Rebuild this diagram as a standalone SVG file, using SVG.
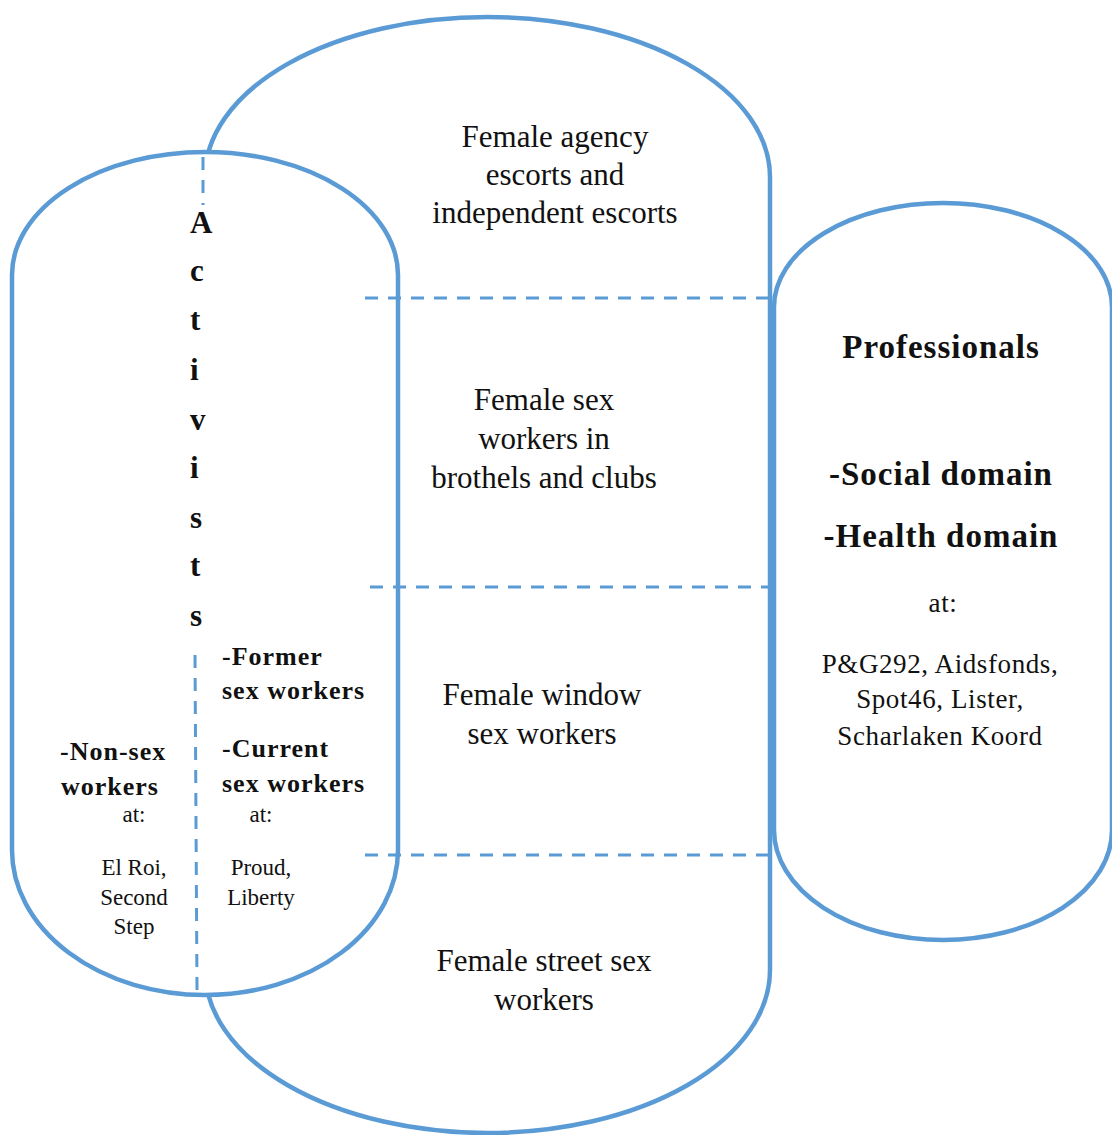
<svg xmlns="http://www.w3.org/2000/svg" width="1112" height="1135" viewBox="0 0 1112 1135">
<style>
.shape{fill:none;stroke:#5B9BD5;stroke-width:4.5}
.dash{stroke:#5B9BD5;stroke-width:3;stroke-dasharray:13 10;fill:none}
.t{font-family:"Liberation Serif","Times New Roman",serif;fill:#111}
.mid{font-size:31px;text-anchor:middle}
.pro{font-size:33px;font-weight:bold;letter-spacing:1px;text-anchor:middle}
.org{font-size:27px;letter-spacing:0.6px;text-anchor:middle}
.act{font-size:31px;font-weight:bold}
.lb{font-size:26px;font-weight:bold;letter-spacing:1px}
.sm{font-size:23px;text-anchor:middle}
</style>
<rect width="1112" height="1135" fill="#ffffff"/>
<g id="sex-workers">
<path class="shape" d="M205,177 A282.5,160 0 0 1 770,177 L770,970 A282.5,163 0 0 1 205,970 Z"/>
<text class="t mid" x="555" y="147">Female agency</text>
<text class="t mid" x="555" y="185">escorts and</text>
<text class="t mid" x="555" y="223">independent escorts</text>
<text class="t mid" x="544" y="410">Female sex</text>
<text class="t mid" x="544" y="449">workers in</text>
<text class="t mid" x="544" y="488">brothels and clubs</text>
<text class="t mid" x="542" y="705">Female window</text>
<text class="t mid" x="542" y="744">sex workers</text>
<text class="t mid" x="544" y="971">Female street sex</text>
<text class="t mid" x="544" y="1010">workers</text>
</g>
<g id="activists">
<path class="shape" d="M12,275 A193,123 0 0 1 398,275 L398,850 A193,145 0 0 1 12,850 Z" style="fill:#fff"/>
<text class="t act" x="190" y="233">A</text>
<text class="t act" x="190" y="281">c</text>
<text class="t act" x="190" y="330">t</text>
<text class="t act" x="190" y="380">i</text>
<text class="t act" x="190" y="430">v</text>
<text class="t act" x="190" y="478">i</text>
<text class="t act" x="190" y="528">s</text>
<text class="t act" x="190" y="576">t</text>
<text class="t act" x="190" y="626">s</text>
<text class="t lb" x="222" y="665">-Former</text>
<text class="t lb" x="222" y="699">sex workers</text>
<text class="t lb" x="222" y="757">-Current</text>
<text class="t lb" x="222" y="792">sex workers</text>
<text class="t sm" x="261" y="822">at:</text>
<text class="t sm" x="261" y="875">Proud,</text>
<text class="t sm" x="261" y="905">Liberty</text>
<text class="t lb" x="60" y="760">-Non-sex</text>
<text class="t lb" x="61" y="795">workers</text>
<text class="t sm" x="134" y="822">at:</text>
<text class="t sm" x="134" y="875">El Roi,</text>
<text class="t sm" x="134" y="905">Second</text>
<text class="t sm" x="134" y="934">Step</text>
</g>
<g id="professionals">
<path class="shape" d="M774,307 A169,104 0 0 1 1112,307 L1112,830 A169,110 0 0 1 774,830 Z"/>
<text class="t pro" x="941" y="358">Professionals</text>
<text class="t pro" x="941" y="485">-Social domain</text>
<text class="t pro" x="941" y="547">-Health domain</text>
<text class="t org" x="943" y="612">at:</text>
<text class="t org" x="940" y="673">P&amp;G292, Aidsfonds,</text>
<text class="t org" x="940" y="708">Spot46, Lister,</text>
<text class="t org" x="940" y="745">Scharlaken Koord</text>
</g>
<g id="connectors">
<line class="dash" x1="203" y1="157" x2="203" y2="205"/>
<line class="dash" x1="195" y1="655" x2="197" y2="990"/>
<line class="dash" x1="365" y1="298" x2="768" y2="298"/>
<line class="dash" x1="370" y1="587" x2="768" y2="587"/>
<line class="dash" x1="365" y1="855" x2="768" y2="855"/>
</g>
</svg>
